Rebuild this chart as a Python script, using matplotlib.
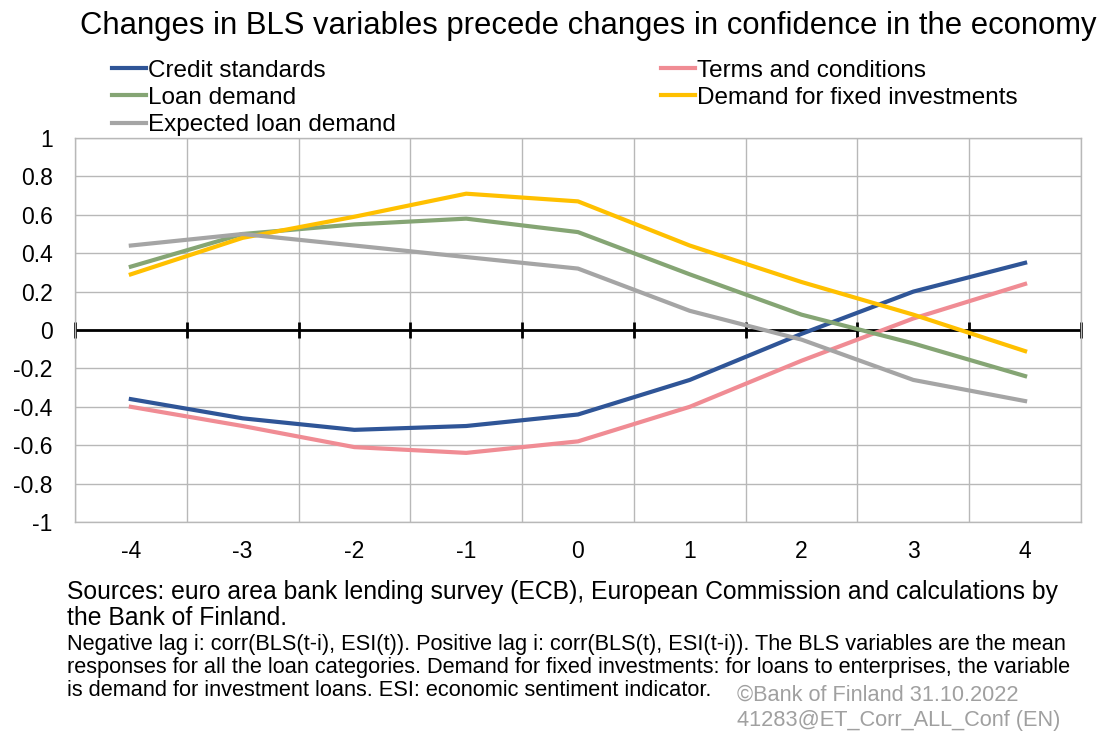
import matplotlib.pyplot as plt
import numpy as np

plt.rcParams['font.family'] = ['Liberation Sans', 'DejaVu Sans']

# lag categories
lags = ['-4', '-3', '-2', '-1', '0', '1', '2', '3', '4']

# correlations
credit_standards = [-0.36, -0.46, -0.52, -0.50, -0.44, -0.26, -0.02, 0.20, 0.35]
terms_conditions = [-0.40, -0.50, -0.61, -0.64, -0.58, -0.40, -0.16, 0.06, 0.24]
loan_demand = [0.33, 0.50, 0.55, 0.58, 0.51, 0.29, 0.08, -0.07, -0.24]
fixed_investments = [0.29, 0.48, 0.59, 0.71, 0.67, 0.44, 0.25, 0.08, -0.11]
expected_demand = [0.44, 0.50, 0.44, 0.38, 0.32, 0.10, -0.05, -0.26, -0.37]

note_lines = [
    'Negative lag i: corr(BLS(t-i), ESI(t)). Positive lag i: corr(BLS(t), ESI(t-i)). The BLS variables are the mean',
    'responses for all the loan categories. Demand for fixed investments: for loans to enterprises, the variable',
    'is demand for investment loans. ESI: economic sentiment indicator.',
]
copyright_lines = ['\u00a9Bank of Finland 31.10.2022', '41283@ET_Corr_ALL_Conf (EN)']

x = np.arange(len(lags))

fig = plt.figure(figsize=(10.99, 7.31), dpi=100)
ax = fig.add_axes([0.0682, 0.2859, 0.9154, 0.5253])

lw = 3
h1, = ax.plot(x, credit_standards, color='#2F5597', lw=lw, label='Credit standards')
h2, = ax.plot(x, terms_conditions, color='#F08C94', lw=lw, label='Terms and conditions')
h3, = ax.plot(x, loan_demand, color='#85A574', lw=lw, label='Loan demand')
h4, = ax.plot(x, fixed_investments, color='#FFC000', lw=lw, label='Demand for fixed investments')
h5, = ax.plot(x, expected_demand, color='#A5A5A5', lw=lw, label='Expected loan demand')

ax.set_xlim(-0.5, len(lags) - 0.5)
ax.set_ylim(-1, 1)
ax.set_yticks(np.linspace(-1, 1, 11))
ax.set_yticklabels(['-1', '-0.8', '-0.6', '-0.4', '-0.2', '0', '0.2', '0.4', '0.6', '0.8', '1'])
ax.set_xticks(x)
ax.set_xticklabels(lags)
bounds = np.arange(len(lags) + 1) - 0.5
ax.set_xticks(bounds, minor=True)
ax.tick_params(axis='both', which='both', length=0, labelsize=16.5)
ax.tick_params(axis='x', pad=13)
ax.tick_params(axis='y', pad=16)
ax.grid(True, which='minor', axis='x', color='#b8b8b8', lw=1)
ax.grid(True, which='major', axis='y', color='#b8b8b8', lw=1)
ax.set_axisbelow(True)
for s in ax.spines.values():
    s.set_color('#b8b8b8')
    s.set_linewidth(1)

# zero axis with tick marks at category boundaries
ax.axhline(0, color='black', lw=2, zorder=1.5)
ax.plot(bounds, np.zeros(len(bounds)), ls='none', marker='|', ms=12, mew=2,
        color='black', zorder=1.5, clip_on=False)

leg = fig.legend(handles=[h1, h3, h5, h2, h4], ncol=2, loc='upper left',
                 bbox_to_anchor=(0.102, 0.9185), frameon=False, fontsize=17.5,
                 handlelength=1.4, handletextpad=0.08, labelspacing=0.22,
                 columnspacing=10.9, borderaxespad=0, borderpad=0)

fig.text(0.5355, 0.964, 'Changes in BLS variables precede changes in confidence in the economy',
         ha='center', va='center', fontsize=22.3)

fig.text(0.061, 0.1724, 'Sources: euro area bank lending survey (ECB), European Commission and calculations by\nthe Bank of Finland.',
         ha='left', va='center', fontsize=17.8, linespacing=1.13)

# notes, one text per line
for i, line in enumerate(note_lines):
    fig.text(0.061, 0.119 - i * 0.0315, line, ha='left', va='center', fontsize=15.7)

for i, line in enumerate(copyright_lines):
    fig.text(0.6706, 0.049 - i * 0.034, line, ha='left', va='center',
             fontsize=15.7, color='#a0a0a0')

fig.savefig('out.png', dpi=100)
